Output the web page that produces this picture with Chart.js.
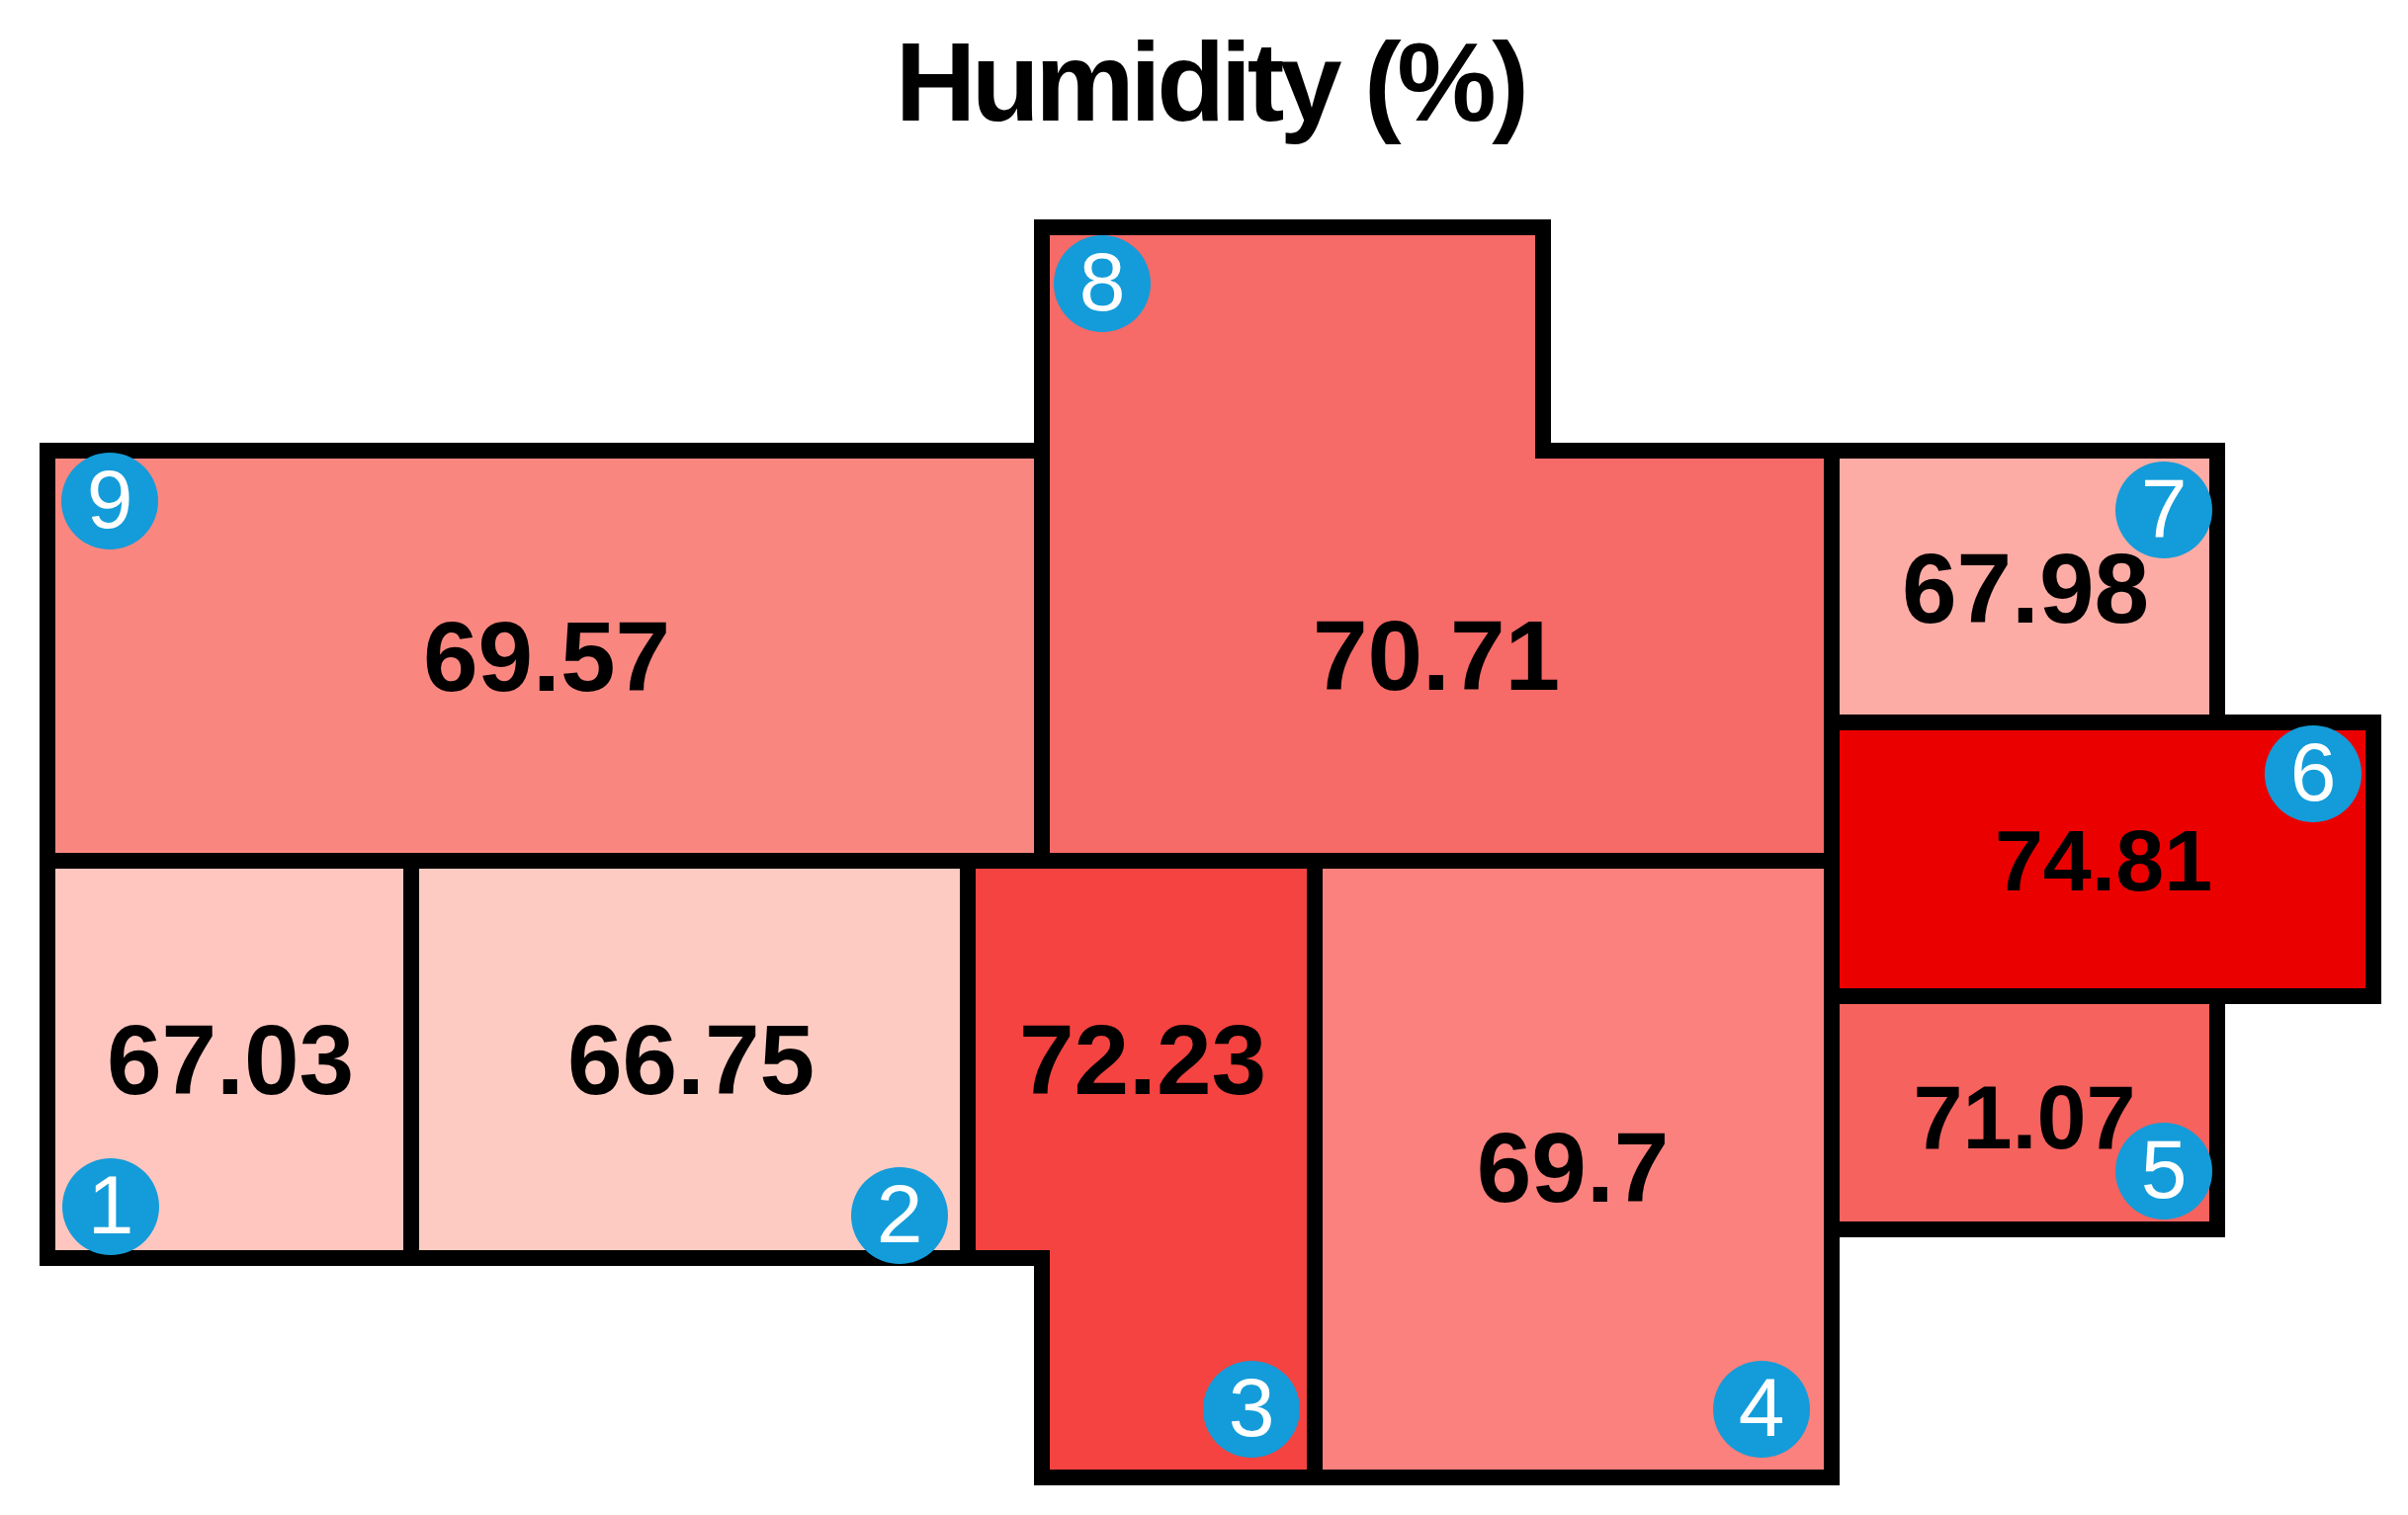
<!DOCTYPE html>
<html>
<head>
<meta charset="utf-8">
<title>Humidity (%)</title>
<script src="https://cdn.jsdelivr.net/npm/chart.js@4/dist/chart.umd.min.js"></script>
<style>
  html, body { margin: 0; padding: 0; background: #fff; }
  canvas { display: block; }
</style>
</head>
<body>
<canvas id="plan" width="2436" height="1533"></canvas>
<script>
const roomIds = [1, 2, 3, 4, 5, 6, 7, 8, 9]
const humidity = [67.03, 66.75, 72.23, 69.7, 71.07, 74.81, 67.98, 70.71, 69.57]
const humidityLabels = ['67.03', '66.75', '72.23', '69.7', '71.07', '74.81', '67.98', '70.71', '69.57']

// room outlines on the floor plan, walls on the centre line
const room1 = [[48, 871], [416, 871], [416, 1273], [48, 1273], [48, 871]]
const room2 = [[416, 871], [979, 871], [979, 1273], [416, 1273], [416, 871]]
const room3 = [[979, 871], [1330, 871], [1330, 1495], [1054, 1495], [1054, 1273], [979, 1273], [979, 871]]
const room4 = [[1330, 871], [1853, 871], [1853, 1495], [1330, 1495], [1330, 871]]
const room5 = [[1853, 1008], [2243, 1008], [2243, 1244], [1853, 1244], [1853, 1008]]
const room6 = [[1853, 731], [2401, 731], [2401, 1008], [1853, 1008], [1853, 731]]
const room7 = [[1853, 456], [2243, 456], [2243, 731], [1853, 731], [1853, 456]]
const room8 = [[1054, 230], [1561, 230], [1561, 456], [1853, 456], [1853, 871], [1054, 871], [1054, 230]]
const room9 = [[48, 456], [1054, 456], [1054, 871], [48, 871], [48, 456]]
const rooms = [room1, room2, room3, room4, room5, room6, room7, room8, room9]

const roomColors = ['#FEC6BF', '#FECBC2', '#F44340', '#FA817D', '#F6625E', '#EB0000', '#FDACA5', '#F66A67', '#F98780']

const labelX = [233, 699, 1156, 1591, 2048, 2128, 2049, 1453, 553]
const labelY = [1079, 1079, 1079, 1188, 1137, 877, 602, 670, 671]
const labelSizes = [100, 100, 100, 100, 90, 88, 100, 100, 100]
const badgeX = [112, 910, 1266, 1782, 2189, 2340, 2189, 1115, 111]
const badgeY = [1221, 1230, 1426, 1426, 1185, 783, 516, 287, 507]

const toPoints = list => list.map(p => ({ x: p[0], y: p[1] }))

// title letters are tighter than the default spacing
const titleSpacing = {
  id: 'titleSpacing',
  beforeDraw(chart) { chart.ctx.letterSpacing = '-4.5px' },
  beforeDatasetsDraw(chart) { chart.ctx.letterSpacing = '0px' },
}

// humidity goes under the badges, badge numbers on top of them
const roomText = {
  id: 'roomText',
  beforeDatasetDraw(chart, args) {
    if (args.index !== 0) return
    const { ctx, scales } = chart
    ctx.save()
    ctx.fillStyle = '#000'
    ctx.textAlign = 'center'
    ctx.textBaseline = 'middle'
    humidityLabels.forEach((t, i) => {
      ctx.font = `bold ${labelSizes[i]}px "Liberation Sans"`
      ctx.fillText(t, scales.x.getPixelForValue(labelX[i]), scales.y.getPixelForValue(labelY[i]))
    })
    ctx.restore()
  },
  afterDatasetsDraw(chart) {
    const { ctx, scales } = chart
    ctx.save()
    ctx.font = '84px "Liberation Sans"'
    ctx.fillStyle = '#fff'
    ctx.textAlign = 'center'
    ctx.textBaseline = 'middle'
    roomIds.forEach((id, i) => {
      ctx.fillText(String(id), scales.x.getPixelForValue(badgeX[i]), scales.y.getPixelForValue(badgeY[i]) + 4)
    })
    ctx.restore()
  },
}

new Chart(document.getElementById('plan'), {
  type: 'scatter',
  data: {
    datasets: [
      {
        label: 'Sensor',
        data: badgeX.map((x, i) => ({ x, y: badgeY[i] })),
        pointRadius: 49,
        pointHoverRadius: 49,
        pointBackgroundColor: '#139CD9',
        pointBorderWidth: 0,
        showLine: false,
        clip: false,
      },
      ...rooms.map((room, i) => ({
        label: `Room ${roomIds[i]}: ${humidity[i]}`,
        data: toPoints(room),
        showLine: true,
        fill: 'shape',
        backgroundColor: roomColors[i],
        borderColor: '#000',
        borderWidth: 16,
        borderJoinStyle: 'miter',
        borderCapStyle: 'square',
        tension: 0,
        pointRadius: 0,
        pointHoverRadius: 0,
        clip: false,
      })),
    ],
  },
  options: {
    responsive: false,
    animation: false,
    devicePixelRatio: 1,
    layout: { padding: { left: 12 }, autoPadding: false },
    scales: {
      x: { type: 'linear', display: false, min: 12, max: 2436 },
      y: { type: 'linear', display: false, min: 200, max: 1533, reverse: true },
    },
    plugins: {
      legend: { display: false },
      tooltip: { enabled: false },
      filler: { drawTime: 'beforeDatasetsDraw' },
      title: {
        display: true,
        text: 'Humidity (%)',
        color: '#000',
        font: { family: '"Liberation Sans"', size: 113, weight: 'bold', lineHeight: '130px' },
        padding: { top: 26, bottom: 44 },
      },
    },
  },
  plugins: [titleSpacing, roomText],
})
</script>
</body>
</html>
